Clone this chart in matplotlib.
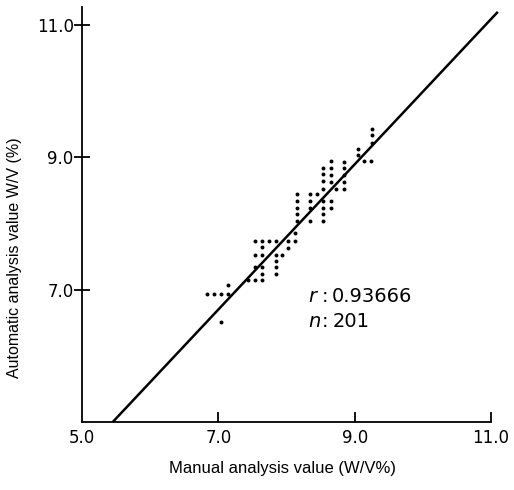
import numpy as np
import matplotlib
matplotlib.use('Agg')
import matplotlib.pyplot as plt

plt.rcParams['font.family'] = ['Liberation Sans', 'DejaVu Sans']

# Manual vs automatic analysis values (W/V %)
manual = [6.84, 6.94, 7.04, 7.14, 7.14, 7.04,
          7.43, 7.54, 7.64,
          7.64, 7.84,
          7.54, 7.64, 7.84,
          7.84,
          7.54, 7.64, 7.84, 7.93,
          7.64,
          7.54, 7.64, 7.74, 7.84,
          8.02, 8.12, 8.02, 8.12,
          8.15, 8.15, 8.15, 8.15, 8.15,
          8.34, 8.34, 8.34, 8.34, 8.45,
          8.54, 8.54, 8.54, 8.54, 8.54, 8.54, 8.54, 8.54,
          8.65, 8.65, 8.65, 8.65, 8.65, 8.65,
          8.73,
          8.84, 8.84, 8.84, 8.84, 8.84,
          9.05, 9.05, 9.13, 9.24, 9.26, 9.26, 9.26]
auto = [6.93, 6.93, 6.93, 6.93, 7.07, 6.51,
        7.14, 7.14, 7.14,
        7.24, 7.24,
        7.34, 7.34, 7.34,
        7.43,
        7.52, 7.52, 7.52, 7.52,
        7.64,
        7.74, 7.74, 7.74, 7.74,
        7.74, 7.74, 7.63, 7.86,
        8.44, 8.34, 8.24, 8.14, 8.04,
        8.44, 8.34, 8.24, 8.04, 8.44,
        8.84, 8.74, 8.64, 8.52, 8.34, 8.24, 8.14, 8.04,
        8.94, 8.83, 8.73, 8.63, 8.34, 8.24,
        8.52,
        8.93, 8.83, 8.73, 8.63, 8.52,
        9.13, 9.04, 8.94, 8.94, 9.43, 9.33, 9.22]

# Fitted line as drawn in the figure
fit_slope = 1.097
fit_intercept = -0.98
fit_start, fit_end = 5.45, 11.10

ticks = [5.0, 7.0, 9.0, 11.0]
tick_labels = ['5.0', '7.0', '9.0', '11.0']
r_value = '0.93666'
n_value = '201'

fig = plt.figure(figsize=(5.14, 4.90), dpi=100)
ax = fig.add_axes([82 / 514, 68 / 490, (491 - 82) / 514, (483 - 68) / 490])

ax.scatter(manual, auto, s=8, color='black', linewidths=0, zorder=3)

x_line = np.array([fit_start, fit_end])
ax.plot(x_line, fit_slope * x_line + fit_intercept, color='black', linewidth=1.8,
        solid_capstyle='butt', clip_on=False)

ax.set_xlim(5.0, 11.0)
ax.set_ylim(5.0, 11.27)

for side in ['top', 'right']:
    ax.spines[side].set_visible(False)
for side in ['left', 'bottom']:
    ax.spines[side].set_linewidth(1.3)

tick_font = {'family': 'DejaVu Sans', 'size': 12}
ax.set_xticks(ticks)
ax.set_xticklabels(tick_labels, fontdict=tick_font)
ax.set_yticks(ticks[1:])
ax.set_yticklabels(tick_labels[1:], fontdict=tick_font)
ax.tick_params(axis='x', direction='in', length=7, width=1.3, pad=5)
ax.tick_params(axis='y', direction='inout', length=12, width=1.3, pad=0)
ax.xaxis.get_major_ticks()[0].tick1line.set_visible(False)

ax.set_xlabel('Manual analysis value (W/V%)', fontsize=12)
ax.xaxis.set_label_coords(0.489, -0.095)
ax.set_ylabel('Automatic analysis value W/V (%)', fontsize=11.5)
ax.yaxis.set_label_coords(-0.147, 0.395)

# Correlation annotation
ann = {'family': 'DejaVu Sans', 'size': 14}
ax.text(8.32, 6.89, 'r', fontdict=ann, fontstyle='italic', va='center')
ax.text(8.51, 6.89, ':', fontdict=ann, va='center')
ax.text(8.67, 6.89, r_value, fontdict=ann, va='center')
ax.text(8.32, 6.52, 'n', fontdict=ann, fontstyle='italic', va='center')
ax.text(8.51, 6.52, ':', fontdict=ann, va='center')
ax.text(8.67, 6.52, n_value, fontdict=ann, va='center')

fig.savefig('out.png', dpi=100)
